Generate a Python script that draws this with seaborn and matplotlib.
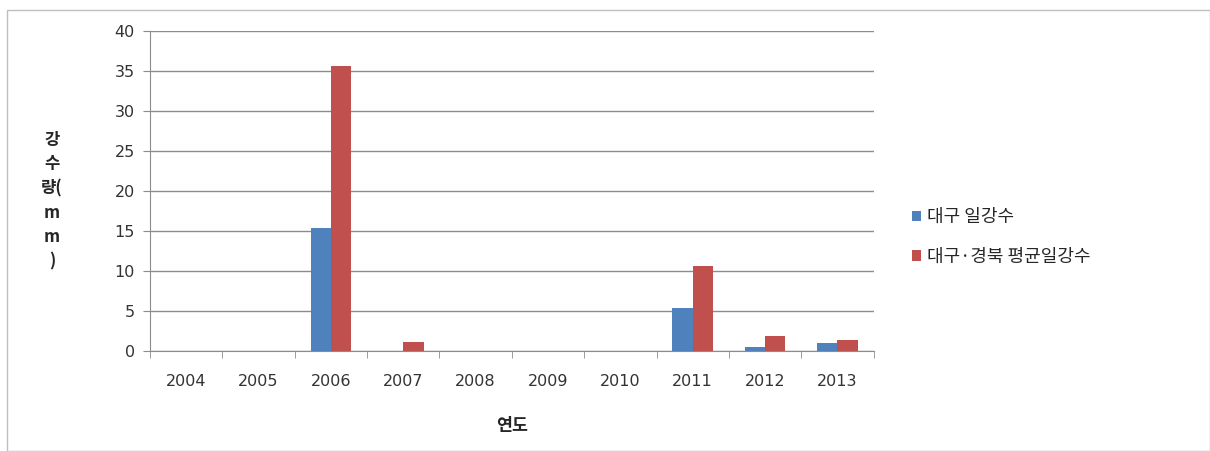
import numpy as np
import pandas as pd
import matplotlib
matplotlib.use("Agg")
import matplotlib.pyplot as plt
import seaborn as sns
from matplotlib.ticker import FixedLocator

# Data
years = ["2004", "2005", "2006", "2007", "2008", "2009", "2010", "2011", "2012", "2013"]
daegu = [0, 0, 15.4, 0, 0, 0, 0, 5.4, 0.5, 1.0]
daegu_gb = [0, 0, 35.6, 1.1, 0, 0, 0, 10.6, 1.8, 1.4]
series_names = ["대구 일강수", "대구·경북 평균일강수"]

df = pd.DataFrame({
    "연도": years * 2,
    "강수량": daegu + daegu_gb,
    "구분": [series_names[0]] * len(years) + [series_names[1]] * len(years),
})

sns.set_style("white")
plt.rcParams["font.family"] = ["Noto Sans CJK KR", "DejaVu Sans"]

fig = plt.figure(figsize=(12.1, 4.51), dpi=100)
ax = fig.add_axes([0.124, 0.222, 0.598, 0.709])

sns.barplot(data=df, x="연도", y="강수량", hue="구분", ax=ax,
            palette=["#4f81bd", "#c0504d"], width=0.56, saturation=1,
            edgecolor="none", linewidth=0)

ax.set_ylim(0, 40)
ax.set_xlim(-0.5, len(years) - 0.5)
ax.set_yticks(np.arange(0, 41, 5))
ax.yaxis.grid(True, color="#8c8c8c", linewidth=1)
ax.set_axisbelow(True)

for s in ["top", "right"]:
    ax.spines[s].set_visible(False)
ax.spines["left"].set_color("#8c8c8c")
ax.spines["bottom"].set_color("#8c8c8c")

# ticks at category boundaries, like Excel
ax.xaxis.set_minor_locator(FixedLocator(np.arange(-0.5, len(years), 1)))
ax.tick_params(axis="x", which="major", length=0, pad=17, labelcolor="#333333")
ax.tick_params(axis="x", which="minor", length=5, color="#8c8c8c", direction="out", bottom=True)
ax.tick_params(axis="y", length=5, color="#8c8c8c", direction="out", left=True,
               labelcolor="#333333", pad=6)
for lab in ax.get_xticklabels() + ax.get_yticklabels():
    lab.set_fontfamily("DejaVu Sans")
    lab.set_fontsize(11.5)

ax.set_xlabel("연도", fontsize=12.5, fontweight="bold", labelpad=20)
ax.set_ylabel("")
fig.text(0.043, 0.555, "강\n수\n량(\nm\nm\n)", fontsize=12, fontweight="bold",
         ha="center", va="center", linespacing=1.45)

ax.legend(loc="center left", bbox_to_anchor=(1.03, 0.356), frameon=False,
          fontsize=13, handlelength=0.5, handleheight=0.5, handletextpad=0.35,
          labelspacing=1.2)

# outer light frame
fig.patches.append(plt.Rectangle((0.006, 0.0), 0.994, 0.978, transform=fig.transFigure,
                                 fill=False, edgecolor="#bfbfbf", linewidth=1))

fig.savefig("out.png", dpi=100)
